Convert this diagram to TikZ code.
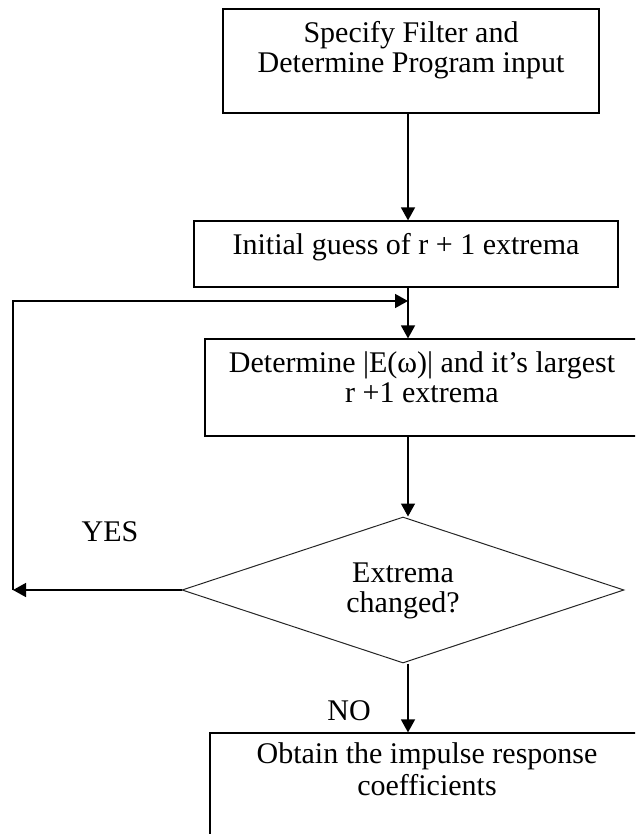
\documentclass[tikz,border=0pt]{standalone}
\usepackage{fontspec}
\setmainfont{Liberation Serif}
\usetikzlibrary{shapes.geometric,arrows.meta}

\tikzset{
  txt/.style={anchor=base, inner sep=0pt, font=\fontsize{30}{32}\selectfont},
  stepbox/.style={draw, rectangle, line width=1.2pt, inner sep=0pt},
  decision/.style={draw=black!85, diamond, line width=1pt, inner sep=0pt},
  arr/.style={line width=1.5pt, -{Triangle[length=13pt,width=14pt]}},
}

\begin{document}
\begin{tikzpicture}[x=1pt, y=-1pt]
  \useasboundingbox (0,0) rectangle (635,834);
  \clip (0,0) rectangle (635,834);

  % process boxes
  \node[stepbox, minimum width=376pt, minimum height=104pt] (spec) at (411,61) {};
  \node[stepbox, minimum width=424pt, minimum height=66pt] (guess) at (406,254) {};
  \node[stepbox, minimum width=434pt, minimum height=97pt] (err) at (422,387.5) {};
  \node[decision, minimum width=442pt, minimum height=146pt] (chg) at (403,590) {};
  \node[stepbox, minimum width=434pt, minimum height=127pt] (coef) at (427,796.5) {};

  % box texts
  \node[txt] (specA) at (411,43) {Specify Filter and};
  \node[txt] (specB) at (411,73) {Determine Program input};
  \node[txt] (guessA) at (406,254) {Initial guess of r + 1 extrema};
  \node[txt] (errA) at (422,372) {Determine |E(ω)| and it’s largest};
  \node[txt] (errB) at (422,402) {r +1 extrema};
  \node[txt] (chgA) at (403,582) {Extrema};
  \node[txt] (chgB) at (403,612) {changed?};
  \node[txt] (coefA) at (427,763) {Obtain the impulse response};
  \node[txt] (coefB) at (427,795) {coefficients};

  % branch labels
  \node[txt] (yes) at (110,541) {YES};
  \node[txt] (no) at (349,720) {NO};

  % main column and loop-back points
  \coordinate (spine) at (408,0);
  \coordinate (ret) at (13,594);
  \coordinate (join) at (408,301);

  % connectors
  \draw[arr] (spec.south -| spine) -- (guess.north -| spine);
  \draw[arr] (guess.south -| spine) -- (err.north -| spine);
  \draw[arr] (err.south -| spine) -- (chg.north -| spine);
  \draw[arr] (chg.south -| spine) -- (coef.north -| spine);
  \draw[arr] (chg.west) -- (chg.west -| ret);
  \draw[arr] (chg.west -| ret) |- (join);
\end{tikzpicture}
\end{document}
